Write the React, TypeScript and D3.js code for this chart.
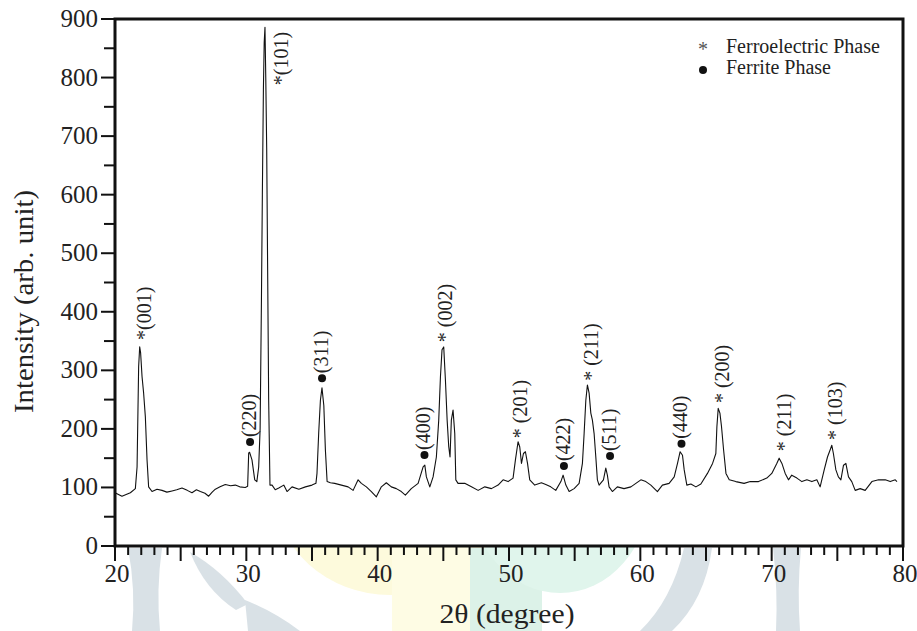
import React from 'react';
import * as d3 from 'd3';

const twoTheta = [
  20.0, 20.53, 21.17, 21.55, 21.68, 21.8, 21.88, 21.95, 22.06, 22.18, 22.31, 22.44, 22.56, 22.82,
  23.2, 23.58, 23.95, 24.34, 24.7, 25.1, 25.5, 25.86, 26.2, 26.5, 26.85, 27.13, 27.4, 27.64, 28.0,
  28.4, 28.8, 29.16, 29.5, 29.92, 30.1, 30.18, 30.25, 30.43, 30.64, 30.8, 30.94, 31.05, 31.15, 31.22,
  31.3, 31.36, 31.42, 31.48, 31.55, 31.62, 31.7, 31.8, 31.96, 32.2, 32.47, 32.85, 33.1, 33.48, 34.0,
  34.5, 35.0, 35.3, 35.38, 35.51, 35.64, 35.76, 35.9, 36.02, 36.15, 36.4, 36.73, 37.24, 37.75, 38.13,
  38.51, 38.76, 39.14, 39.52, 39.9, 40.28, 40.66, 41.04, 41.42, 41.8, 42.11, 42.56, 43.08, 43.46,
  43.59, 43.71, 43.97, 44.22, 44.47, 44.65, 44.78, 44.9, 45.03, 45.16, 45.29, 45.41, 45.51, 45.61,
  45.74, 45.87, 45.95, 46.12, 46.63, 47.14, 47.65, 48.16, 48.66, 49.17, 49.55, 49.93, 50.31, 50.49,
  50.69, 50.82, 50.95, 51.1, 51.25, 51.41, 51.58, 51.96, 52.47, 52.8, 53.18, 53.56, 53.95, 54.12,
  54.33, 54.58, 54.96, 55.34, 55.59, 55.72, 55.85, 55.97, 56.1, 56.23, 56.35, 56.48, 56.61, 56.73,
  56.86, 57.19, 57.37, 57.49, 57.62, 57.87, 58.25, 58.76, 59.28, 59.66, 60.04, 60.42, 60.8, 61.3,
  61.68, 62.19, 62.58, 62.83, 63.03, 63.21, 63.34, 63.54, 63.85, 64.23, 64.61, 65.11, 65.5, 65.75,
  65.83, 65.93, 66.06, 66.18, 66.34, 66.52, 66.77, 67.27, 67.9, 68.37, 69.0, 69.63, 70.01, 70.39,
  70.57, 70.78, 71.03, 71.28, 71.53, 71.92, 72.3, 72.68, 73.06, 73.44, 73.69, 74.0, 74.25, 74.45,
  74.58, 74.7, 74.89, 75.08, 75.27, 75.47, 75.65, 75.85, 76.1, 76.36, 76.74, 77.12, 77.63, 78.14,
  78.65, 79.03, 79.41, 79.54,
];
const intensity = [
  91, 85, 91, 98, 135, 306, 340, 330, 289, 261, 221, 147, 101, 93,
  97, 95, 92, 94, 96, 99, 95, 91, 96, 93, 90, 85, 92, 97, 101,
  105, 103, 104, 101, 100, 102, 159, 160, 147, 113, 110, 135, 200, 420, 600,
  780, 860, 886, 800, 680, 480, 250, 104, 104, 96, 99, 104, 93, 101, 97,
  101, 104, 107, 124, 193, 249, 270, 240, 164, 110, 108, 107, 104, 101, 95,
  113, 107, 101, 93, 84, 101, 108, 101, 98, 93, 87, 98, 107, 135,
  138, 118, 101, 118, 152, 215, 289, 335, 340, 283, 215, 170, 152, 215,
  232, 192, 113, 107, 107, 101, 95, 101, 98, 104, 113, 110, 116, 147,
  178, 169, 141, 158, 161, 141, 113, 104, 108, 105, 101, 95, 110, 121,
  104, 93, 98, 107, 141, 192, 249, 275, 261, 227, 215, 192, 152, 113,
  104, 113, 133, 121, 101, 93, 101, 98, 101, 107, 113, 110, 104, 93,
  104, 107, 118, 141, 161, 155, 130, 104, 106, 101, 106, 124, 141, 158,
  204, 235, 227, 204, 164, 124, 113, 110, 107, 110, 110, 116, 124, 141,
  150, 141, 124, 113, 121, 116, 110, 113, 110, 113, 101, 130, 152, 164,
  172, 158, 130, 118, 113, 138, 141, 118, 110, 95, 98, 95, 110, 113,
  113, 110, 113, 110,
];

const xTickLabels = [20, 30, 40, 50, 60, 70, 80];
const yTickLabels = [0, 100, 200, 300, 400, 500, 600, 700, 800, 900];

// peak annotations: text, phase (F = ferroelectric *, S = ferrite ●), 2θ of label column, intensity where label starts
const peakText = ['*(001)', '(220)', '*(101)', '(311)', '(400)', '* (002)', '* (201)', '(422)', '* (211)', '(511)', '(440)', '* (200)', '* (211)', '* (103)'];
const peakPhase = ['F', 'S', 'F', 'S', 'S', 'F', 'F', 'S', 'F', 'S', 'S', 'F', 'F', 'F'];
const peakCol = [22.36, 30.36, 32.79, 35.84, 43.64, 45.28, 50.99, 54.26, 56.4, 57.77, 63.21, 66.37, 71.09, 74.97];
const peakStart = [352, 169, 787, 278, 147, 348, 184, 128, 282, 145, 166, 244, 162, 181];

const legendLabels = ['Ferroelectric Phase', 'Ferrite Phase'];

const TS: React.CSSProperties = { fontFamily: 'Liberation Serif' };

export default function App() {
  const W = 917;
  const H = 631;
  const x = d3.scaleLinear().domain([20, 80]).range([115, 903]);
  const y = d3.scaleLinear().domain([0, 900]).range([546, 19]);

  const pts = twoTheta.map((t, i) => [t, intensity[i]] as [number, number]);
  const line = d3.line<[number, number]>().x(d => x(d[0])).y(d => y(d[1]));

  const minorX = d3.range(20, 81, 1);
  const minorY = d3.range(0, 901, 50);

  const labelFs = 20;

  return (
    <svg width={W} height={H} style={{ position: 'absolute', left: 0, top: 0, background: '#fff' }}>
      <rect x={0} y={0} width={W} height={H} fill="#fff" />
      {/* faint watermark below the axis */}
      <g>
        <path d="M128,548 L162,548 Q156,590 160,631 L132,631 Q136,590 128,548 Z" fill="#d9e1e6" />
        <path d="M190,552 Q222,570 248,604 L236,610 Q205,590 190,552 Z" fill="#d9e1e6" />
        <path d="M245,600 Q275,612 300,631 L248,631 Z" fill="#d9e1e6" />
        <ellipse cx={390} cy={490} rx={115} ry={105} fill="#fdfadc" />
        <rect x={392} y={548} width={78} height={83} fill="#fefce4" />
        <rect x={470} y={548} width={72} height={83} fill="#dcf2e8" />
        <ellipse cx={560} cy={490} rx={90} ry={103} fill="#e0f5ec" />
        <path d="M684,548 L712,548 Q705,600 672,631 L640,631 Q672,600 684,548 Z" fill="#d9e1e6" />
        <path d="M773,548 L801,548 Q797,590 800,631 L776,631 Q778,590 773,548 Z" fill="#d9e1e6" />
      </g>
      <rect x={115} y={19} width={788} height={527} fill="#fff" />

      {/* data line */}
      <path d={line(pts) || ''} fill="none" stroke="#111" strokeWidth={1.1} strokeLinejoin="round" />

      {/* frame */}
      <rect x={115} y={19} width={788} height={527} fill="none" stroke="#111" strokeWidth={3} />

      {/* x ticks */}
      {minorX.map(v => {
        const major = v % 5 === 0;
        return (
          <line key={'xt' + v} x1={x(v)} x2={x(v)} y1={547} y2={major ? 561 : 555} stroke="#111" strokeWidth={2} />
        );
      })}
      {xTickLabels.map(v => (
        <text key={'xl' + v} style={TS} x={x(v) + 2} y={582} fontSize={25} textAnchor="middle" fill="#222">{v}</text>
      ))}

      {/* y ticks */}
      {minorY.map(v => {
        const major = v % 100 === 0;
        return (
          <line key={'yt' + v} x1={major ? 101 : 104} x2={114} y1={y(v)} y2={y(v)} stroke="#111" strokeWidth={2} />
        );
      })}
      {yTickLabels.map(v => (
        <text key={'yl' + v} style={TS} x={98} y={y(v) + 8} fontSize={25} textAnchor="end" fill="#222">{v}</text>
      ))}

      {/* axis titles */}
      <text style={TS} transform="translate(33,301.5) rotate(-90)" fontSize={28} textAnchor="middle" fill="#222" textLength={223} lengthAdjust="spacingAndGlyphs">Intensity (arb. unit)</text>
      <text style={TS} x={507} y={623} fontSize={27} textAnchor="middle" fill="#222" textLength={135} lengthAdjust="spacingAndGlyphs">2θ (degree)</text>

      {/* peak labels */}
      {peakText.map((t, i) => {
        const cx = x(peakCol[i]);
        const sy = y(peakStart[i]);
        if (peakPhase[i] === 'S') {
          return (
            <g key={'pk' + i}>
              <circle cx={cx - 1} cy={sy - 5} r={4} fill="#111" />
              <text style={TS} transform={`translate(${cx + 4.7},${sy - 10}) rotate(-90)`} fontSize={labelFs} fill="#222">{t}</text>
            </g>
          );
        }
        return (
          <text key={'pk' + i} style={TS} transform={`translate(${cx + 4.7},${sy}) rotate(-90)`} fontSize={labelFs} fill="#222">{t}</text>
        );
      })}

      {/* legend */}
      <text style={TS} x={703} y={56} fontSize={20} textAnchor="middle" fill="#555">*</text>
      <text style={TS} x={726} y={53} fontSize={20} fill="#222">{legendLabels[0]}</text>
      <circle cx={703} cy={70} r={4} fill="#111" />
      <text style={TS} x={726} y={74} fontSize={20} fill="#222">{legendLabels[1]}</text>
    </svg>
  );
}
